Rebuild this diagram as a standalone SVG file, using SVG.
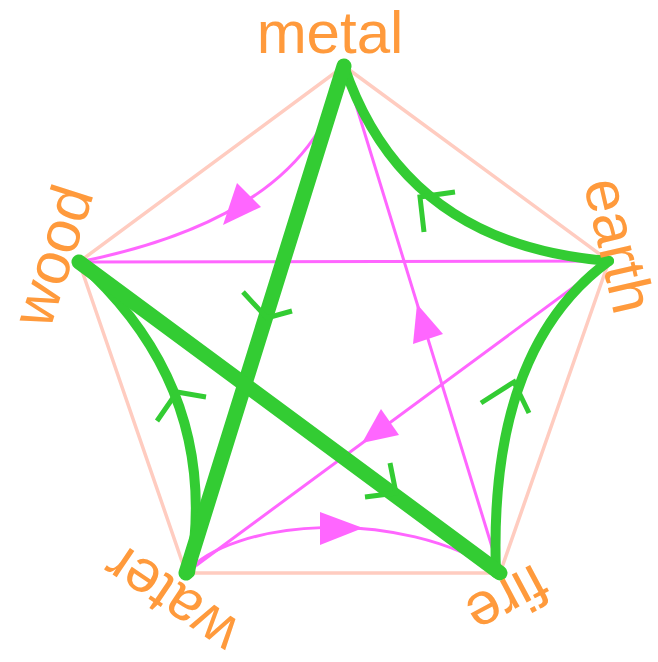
<svg xmlns="http://www.w3.org/2000/svg" width="658" height="662" viewBox="0 0 658 662">
<style>
.lbl{font-family:"Liberation Sans",Arial,sans-serif;font-size:60px;fill:#FF9A3C;text-anchor:middle}
.pent{fill:none;stroke:#FFCCC0;stroke-width:3.5;stroke-linejoin:miter}
.mg{fill:none;stroke:#FF66FF;stroke-width:3;stroke-linecap:round}
.mga{fill:#FF66FF;stroke:none}
.gc{fill:none;stroke:#33CC33;stroke-width:10;stroke-linecap:round}
.gl{fill:none;stroke:#33CC33;stroke-width:15;stroke-linecap:round}
.gch{fill:none;stroke:#33CC33;stroke-width:5;stroke-linecap:butt;stroke-linejoin:miter}
</style>
<rect x="0" y="0" width="658" height="662" fill="#FFFFFF"/>
<polygon class="pent" points="344,66 609,261 500,573 186,573 79,262"/>
<g id="connectors">
  <path class="mg" d="M79,262 L609,261"/>
  <path class="mg" d="M609,261 L186,573"/>
  <path class="mg" d="M500,573 L344,66"/>
  <path class="mg" d="M186,573 C230,520 400,505 500,573"/>
  <path class="mg" d="M344,66 Q315,215 79,262"/>
  <polygon class="mga" points="223,225 237,183 261,207"/>
  <polygon class="mga" points="417,304 443,334 413,344"/>
  <polygon class="mga" points="362,443 399,435 381,409"/>
  <polygon class="mga" points="363,528 320,512 320,545"/>
  <path class="gc" d="M344,66 Q404,245 609,261"/>
  <path class="gc" d="M609,261 Q488,349 496,573"/>
  <path class="gc" d="M190,573 Q222,390 79,262"/>
  <path class="gl" d="M344,66 L186,573"/>
  <path class="gl" d="M79,262 L500,573"/>
  <polyline class="gch" points="455,192 420,197 424,232"/>
  <polyline class="gch" points="243,292 267,318 292,311"/>
  <polyline class="gch" points="157,421 177,392 206,397"/>
  <polyline class="gch" points="390,463 396,493 365,497"/>
  <polyline class="gch" points="481,403 514,382 529,413"/>
</g>
<g id="metal"><text class="lbl" x="330" y="53">metal</text></g>
<g id="wood"><text class="lbl" transform="translate(72,262) rotate(-72)">wood</text></g>
<g id="earth"><text class="lbl" transform="translate(599,250) rotate(77)">earth</text></g>
<g id="water"><text class="lbl" transform="translate(182,583) rotate(-146)">water</text></g>
<g id="fire"><text class="lbl" transform="translate(498,582) rotate(152)">fire</text></g>
</svg>
